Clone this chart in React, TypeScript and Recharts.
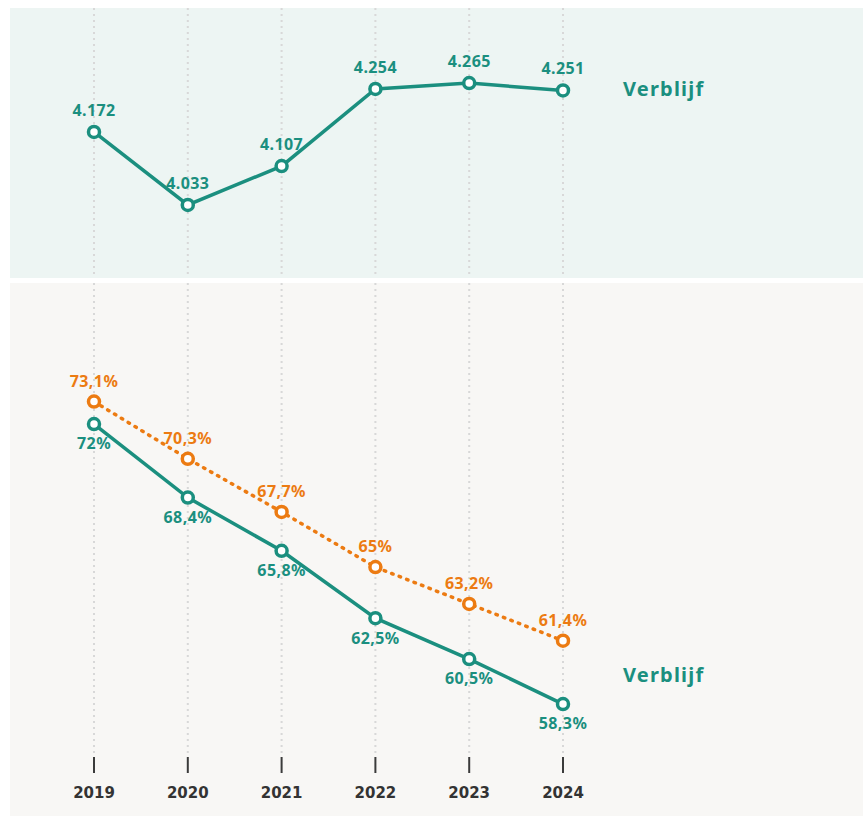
import React from 'react';
import { LineChart, Line, XAxis, YAxis, CartesianGrid, LabelList } from 'recharts';

const years = [2019, 2020, 2021, 2022, 2023, 2024];
const verblijfAantal = [4172, 4033, 4107, 4254, 4265, 4251];
const verblijfPct = [72, 68.4, 65.8, 62.5, 60.5, 58.3];
const oranjePct = [73.1, 70.3, 67.7, 65, 63.2, 61.4];
const seriesName = 'Verblijf';

const topData = years.map((y, i) => ({ year: y, v: verblijfAantal[i] }));
const bottomData = years.map((y, i) => ({ year: y, g: verblijfPct[i], o: oranjePct[i] }));

const TEAL = '#1b8f7f';
const ORANGE = '#ec7b12';
const GRID = '#d8d8d8';
const LABEL_FONT = '"Noto Sans", "Open Sans", sans-serif';

const fmtThousands = (v: number) => (v / 1000).toFixed(3);
const fmtPct = (v: number) => String(v).replace('.', ',') + '%';

const labelStyle = { fontSize: 16, fontWeight: 700, fontFamily: LABEL_FONT, letterSpacing: 0.4 };

export default function App() {
  return (
    <div style={{ position: 'absolute', left: 0, top: 0, width: 863, height: 816, background: '#fff', overflow: 'hidden' }}>
      <div style={{ position: 'absolute', left: 10, top: 8, width: 853, height: 270, background: '#edf5f3' }} />
      <div style={{ position: 'absolute', left: 10, top: 283, width: 853, height: 533, background: '#f8f7f5' }} />

      <div style={{ position: 'absolute', left: 0, top: 0 }}>
        <LineChart width={863} height={290} data={topData} margin={{ top: 8, bottom: 12, left: 94, right: 300 }}>
          <CartesianGrid vertical horizontal={false} stroke={GRID} strokeWidth={2} strokeDasharray="2 4" />
          <XAxis dataKey="year" type="number" domain={[2019, 2024]} ticks={years} hide />
          <YAxis type="number" domain={[3894, 4408]} hide />
          <Line
            dataKey="v"
            stroke={TEAL}
            strokeWidth={3.5}
            isAnimationActive={false}
            dot={{ r: 5.5, fill: '#fff', stroke: TEAL, strokeWidth: 3.5 }}
          >
            <LabelList dataKey="v" position="top" offset={16} formatter={fmtThousands} fill={TEAL} {...labelStyle} />
          </Line>
        </LineChart>
      </div>

      <div style={{ position: 'absolute', left: 0, top: 278 }}>
        <LineChart width={863} height={538} data={bottomData} margin={{ top: 5, bottom: 29, left: 94, right: 300 }}>
          <CartesianGrid vertical horizontal={false} stroke={GRID} strokeWidth={2} strokeDasharray="2 4" />
          <XAxis
            dataKey="year"
            type="number"
            domain={[2019, 2024]}
            ticks={years}
            height={30}
            axisLine={false}
            tickSize={16}
            tickMargin={14}
            tickLine={{ stroke: '#3b3b3b', strokeWidth: 2 }}
            tick={{ fill: '#333', fontSize: 15, fontWeight: 700, fontFamily: '"DejaVu Sans", sans-serif' }}
          />
          <YAxis type="number" domain={[55.71, 78.9]} hide />
          <Line
            dataKey="o"
            stroke={ORANGE}
            strokeWidth={3.5}
            strokeDasharray="1.5 6.5"
            strokeLinecap="round"
            isAnimationActive={false}
            dot={{ r: 5.5, fill: '#fff', stroke: ORANGE, strokeWidth: 3.5, strokeDasharray: '0' }}
          >
            <LabelList dataKey="o" position="top" offset={15} formatter={fmtPct} fill={ORANGE} {...labelStyle} />
          </Line>
          <Line
            dataKey="g"
            stroke={TEAL}
            strokeWidth={3.5}
            isAnimationActive={false}
            dot={{ r: 5.5, fill: '#fff', stroke: TEAL, strokeWidth: 3.5 }}
          >
            <LabelList dataKey="g" position="bottom" offset={14} formatter={fmtPct} fill={TEAL} {...labelStyle} />
          </Line>
        </LineChart>
      </div>

      <div style={{ position: 'absolute', left: 623, top: 76, color: TEAL, fontSize: 20, fontWeight: 700, fontFamily: LABEL_FONT, letterSpacing: 1.2, lineHeight: '26px' }}>
        {seriesName}
      </div>
      <div style={{ position: 'absolute', left: 623, top: 662, color: TEAL, fontSize: 20, fontWeight: 700, fontFamily: LABEL_FONT, letterSpacing: 1.2, lineHeight: '26px' }}>
        {seriesName}
      </div>
    </div>
  );
}
